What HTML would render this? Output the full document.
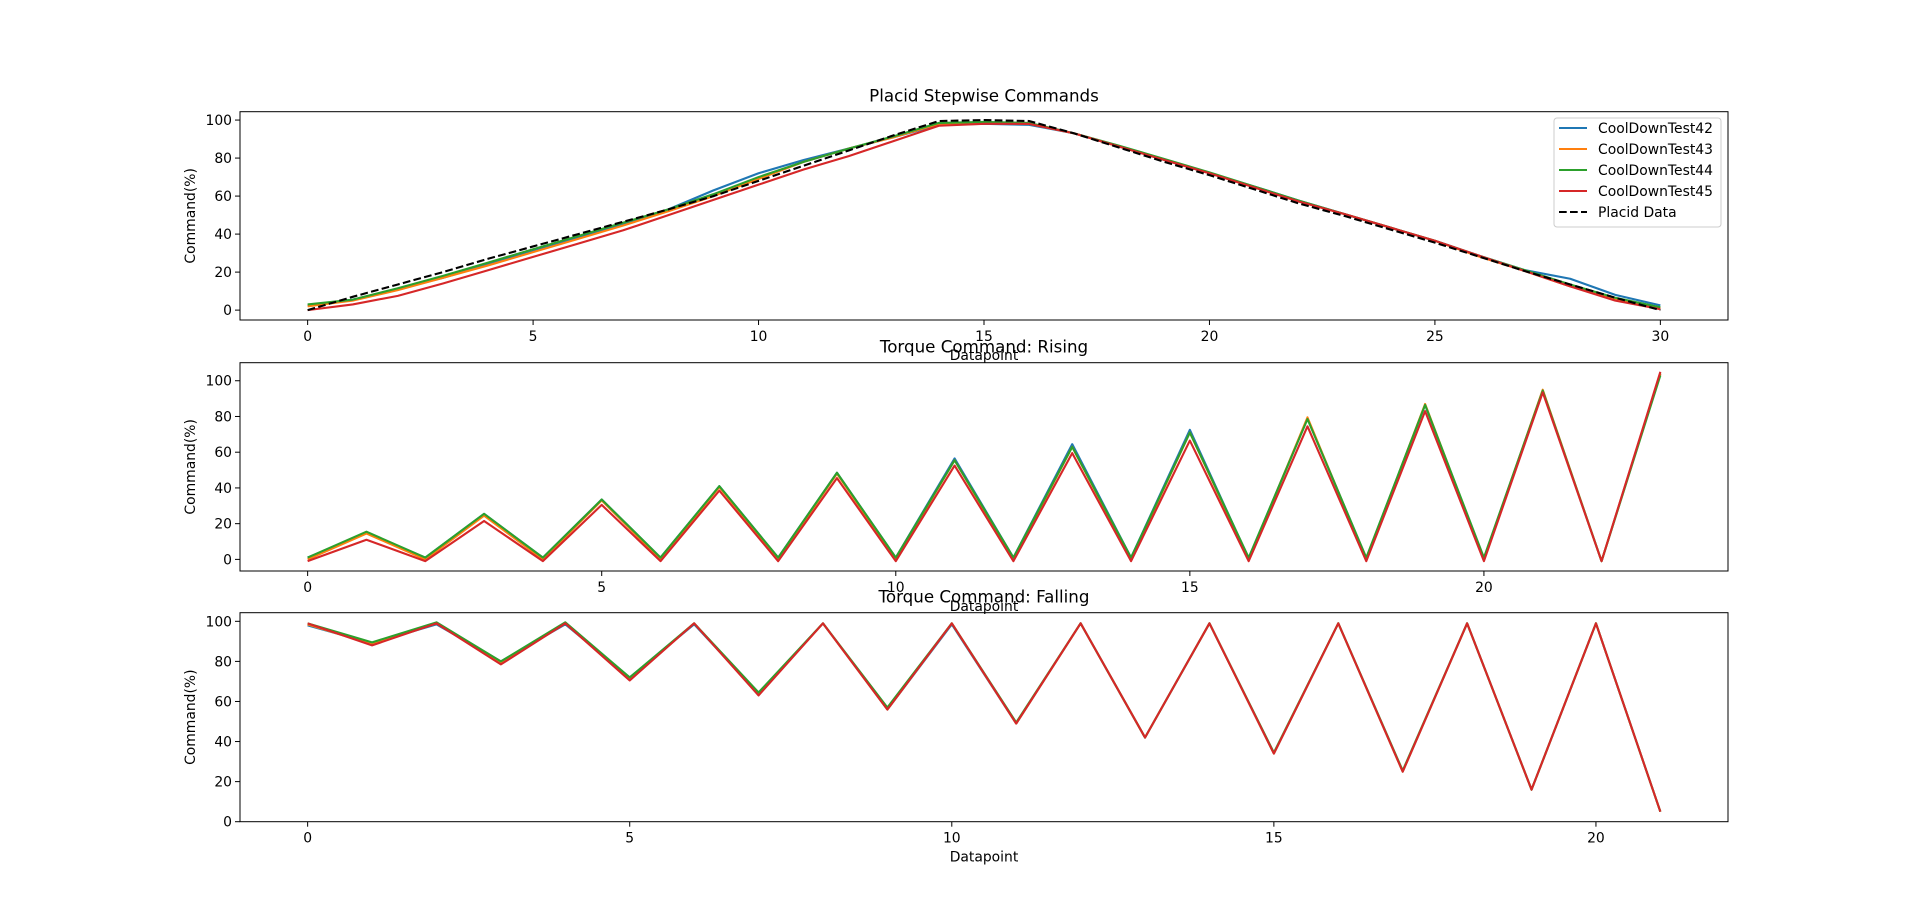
<!DOCTYPE html>
<html><head><meta charset="utf-8">
<style>
html,body{margin:0;padding:0;background:#fff;}
svg{display:block;font-family:"DejaVu Sans","Liberation Sans",sans-serif;}
</style></head>
<body>
<svg id="fig" width="1920" height="923" viewBox="0 0 1920 923" xmlns="http://www.w3.org/2000/svg"></svg>
<script>
// ---- Data: Placid Stepwise Commands ----
const stepX = [0,1,2,3,4,5,6,7,8,9,10,11,12,13,14,15,16,17,18,19,20,21,22,23,24,25,26,27,28,29,30];
const placid = [0,7,13.5,20,27,33.5,40,46.5,53,60,68,76,84,92,99.5,100,99.5,93,85.5,78,71,63.5,56,49.5,42.5,35.5,28,20.5,13.5,6.5,0];
const step42 = [2.5,5.5,11,17,24,31,38,45,53,63,72,79,85,91,97.5,98,97.5,93,86,79,72,65,57.5,50.5,43.5,36.5,28.5,21,16.5,8,2.5];
const step43 = [2,5,10.5,17,23.5,30.5,37.5,44.5,52,60,69,78,85,91,98,98.5,98,93,86,79,72,64.5,57,50.5,43.5,36.5,28,20.5,12.5,6,1];
const step44 = [3,5.5,11.5,18,25,32,39,46,53,61,70,78,85,91.5,98.5,99,98.5,93,86.5,79.5,72.5,65,57.5,50.5,43.5,36.5,28.5,21,13.5,6.5,1.5];
const step45 = [0,3,7.5,14,21,28,35,42,50,58,66,74,81,89,97,98,98,93,86,79,72,64.5,57,50.5,43.5,36.5,28.5,20.5,12.5,5,0.5];
// ---- Data: Torque Command Rising ----
const riseX = [0,1,2,3,4,5,6,7,8,9,10,11,12,13,14,15,16,17,18,19,20,21,22,23];
const rise42 = [1,15,1,25.5,1,33.5,1,41,1,48.5,1,56.5,1,64.5,1,72.5,0.5,79,0.5,86.5,0,94.5,-1,104];
const rise43 = [0,14.5,0,24.5,0,33,0,40.5,0,48,0,55.5,0,63,0,71,0,79.5,0,87,0,95,-1,104];
const rise44 = [1,15.5,1,25.5,1,33.5,1,41,1,48.5,1,55.5,1,63,1,71,1,78.5,1,86.5,1,94.5,-1,103];
const rise45 = [-1,11,-1,21.5,-1,30.5,-1,38.5,-1,45.5,-1,52.5,-1,59.5,-1,66.5,-1,74.5,-1,83,-1,93.5,-1,105];
// ---- Data: Torque Command Falling ----
const fallX = [0,1,2,3,4,5,6,7,8,9,10,11,12,13,14,15,16,17,18,19,20,21];
const fall42 = [98,89,98.5,80,98.5,72,98.5,64,99,56,98.5,49,99,42,99,34,99,25,99,16,99,5];
const fall43 = [98.5,88.5,99,79,99,71,99,63.5,99,56,99,49,99,42,99,34,99,25,99,16,99,5];
const fall44 = [99,89.5,99.5,80,99.5,72,99,64.5,99,57,99,49.5,99,42,99,34.5,99,25.5,99,16,99,5];
const fall45 = [99,88,99,78.5,99,70.5,99,63,99,56,99,49,99,42,99,34,99,25,99,16,99,5];
const yTicks = [0,20,40,60,80,100];
const xTicks = [0,5,10,15,20,25,30];
const seriesNames = ["CoolDownTest42","CoolDownTest43","CoolDownTest44","CoolDownTest45","Placid Data"];
const colors = ["#1f77b4","#ff7f0e","#2ca02c","#d62728","#000000"];

const NS = "http://www.w3.org/2000/svg";
const fig = document.getElementById('fig');
function mk(tag, attrs, parent){
  const e = document.createElementNS(NS, tag);
  for (const k in attrs) e.setAttribute(k, attrs[k]);
  (parent||fig).appendChild(e);
  return e;
}
function drawAxes(cfg){
  const g = mk('g', {});
  
  
  const L=240, R=1728, T=cfg.top, B=cfg.bottom;
  const sx = v => L + (v - cfg.xmin)/(cfg.xmax - cfg.xmin)*(R-L);
  const sy = v => B - (v - cfg.ymin)/(cfg.ymax - cfg.ymin)*(B-T);
  cfg.series.forEach((s, i) => {
    const pts = cfg.x.map((xv, j) => sx(xv).toFixed(2)+','+sy(s[j]).toFixed(2)).join(' ');
    const pl = mk('polyline', {points: pts, fill:'none', stroke: colors[i], 'stroke-width': 2.1, 'stroke-linejoin':'round'}, g);
    if (i===4) pl.setAttribute('stroke-dasharray','7.7,3.3');
    
    
  });
  const fr = mk('rect', {x:L, y:T, width:R-L, height:B-T, fill:'none', stroke:'#000', 'stroke-width':1}, g);
  
  
  yTicks.forEach(v => {
    const y = sy(v);
    mk('line', {x1:L-5, x2:L, y1:y, y2:y, stroke:'#000', 'stroke-width':1}, g);
    const t = mk('text', {x:L-8, y:y+5, 'text-anchor':'end', 'font-size':13.9, fill:'#000'}, g);
    t.textContent = v;
    
    
  });
  xTicks.filter(v => v <= cfg.xmax).forEach(v => {
    const x = sx(v);
    mk('line', {x1:x, x2:x, y1:B, y2:B+5, stroke:'#000', 'stroke-width':1}, g);
    const t = mk('text', {x:x, y:B+21, 'text-anchor':'middle', 'font-size':13.9, fill:'#000'}, g);
    t.textContent = v;
    
    
  });
  const yl = mk('text', {x:0, y:0, 'text-anchor':'middle', 'font-size':13.9, transform:`translate(195,${(T+B)/2}) rotate(-90)`}, g);
  yl.textContent = 'Command(%)';
  
  
  const xl = mk('text', {x:(L+R)/2, y:B+40, 'text-anchor':'middle', 'font-size':13.9}, g);
  xl.textContent = 'Datapoint';
  
  
  const ti = mk('text', {x:(L+R)/2, y:T-10, 'text-anchor':'middle', 'font-size':16.7}, g);
  ti.textContent = cfg.title;
  
  
  return g;
}
drawAxes({name:'stepwise-chart', title:'Placid Stepwise Commands', top:111.7, bottom:320, xmin:-1.5, xmax:31.5, ymin:-5.2, ymax:104.4, x:stepX, series:[step42,step43,step44,step45,placid]});
drawAxes({name:'rising-chart', title:'Torque Command: Rising', top:362.7, bottom:571, xmin:-1.15, xmax:24.15, ymin:-6.5, ymax:110.1, x:riseX, series:[rise42,rise43,rise44,rise45]});
drawAxes({name:'falling-chart', title:'Torque Command: Falling', top:612.7, bottom:821.7, xmin:-1.05, xmax:22.05, ymin:0, ymax:104.3, x:fallX, series:[fall42,fall43,fall44,fall45]});

const lg = mk('g', {});


mk('rect', {x:1554, y:118, width:167, height:109, rx:3, fill:'#fff', 'fill-opacity':0.8, stroke:'#ccc', 'stroke-width':1}, lg);
seriesNames.forEach((n, i) => {
  const y = 128 + i*21;
  const ln = mk('line', {x1:1559, x2:1587, y1:y, y2:y, stroke:colors[i], 'stroke-width':2.1}, lg);
  if (i===4) ln.setAttribute('stroke-dasharray','7.7,3.3');
  const t = mk('text', {x:1598, y:y+5, 'font-size':13.9}, lg);
  t.textContent = n;
  
  
});
</script>
</body></html>
